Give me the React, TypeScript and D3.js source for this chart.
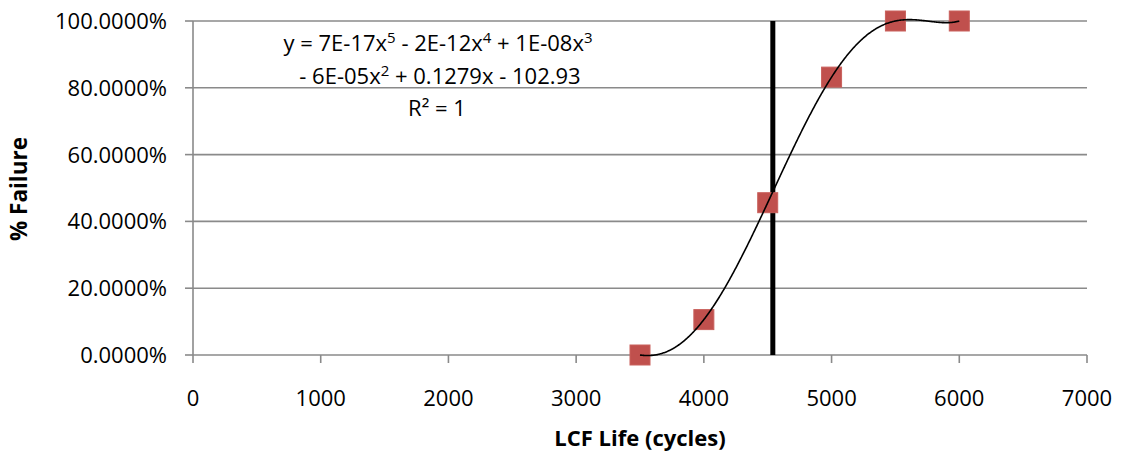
import React from "react";
import * as d3 from "d3";

const cycles = [3500, 4000, 4500, 5000, 5500, 6000];
const failurePct = [0, 10.6, 45.6, 83.2, 100, 100];
const xTicks = [0, 1000, 2000, 3000, 4000, 5000, 6000, 7000];
const yTicks = [0, 20, 40, 60, 80, 100];
const markerCycles = 4540;
const xTitle = "LCF Life (cycles)";
const yTitle = "% Failure";

const W = 1121;
const H = 451;
const left = 193;
const right = 1087;
const top = 21;
const bottom = 355;

// polynomial trendline of order 5 (exact through 6 points, R² = 1)
function trend(x: number): number {
  let s = 0;
  for (let i = 0; i < cycles.length; i++) {
    let t = failurePct[i];
    for (let j = 0; j < cycles.length; j++) {
      if (j !== i) t *= (x - cycles[j]) / (cycles[i] - cycles[j]);
    }
    s += t;
  }
  return s;
}

export default function App() {
  const x = d3.scaleLinear().domain([0, 7000]).range([left, right]);
  const y = d3.scaleLinear().domain([0, 100]).range([bottom, top]);
  const font = "'Open Sans', 'Liberation Sans', Arial, sans-serif";
  const grid = "#8a8a8a";
  const fs = 22;

  const samples = d3.range(cycles[0], cycles[cycles.length - 1] + 1, 5);
  const line = d3
    .line<number>()
    .x((d) => x(d))
    .y((d) => y(trend(d)))
    .curve(d3.curveLinear);

  const sup = { fontSize: 15 } as React.CSSProperties;

  return (
    <svg width={W} height={H} style={{ position: "absolute", left: 0, top: 0, background: "#fff" }}>
      {yTicks.map((t) => (
        <line key={"g" + t} x1={left} x2={right} y1={y(t)} y2={y(t)} stroke={grid} strokeWidth={1.6} />
      ))}
      <line x1={left} x2={left} y1={top} y2={bottom} stroke={grid} strokeWidth={1.6} />
      {yTicks.map((t) => (
        <g key={"yt" + t}>
          <line x1={left - 8} x2={left} y1={y(t)} y2={y(t)} stroke={grid} strokeWidth={1.6} />
          <text x={167} y={y(t)} dy="0.36em" textAnchor="end" fontFamily={font} fontSize={fs} fill="#000">
            {t.toFixed(4) + "%"}
          </text>
        </g>
      ))}
      {xTicks.map((t) => (
        <g key={"xt" + t}>
          <line x1={x(t)} x2={x(t)} y1={bottom} y2={bottom + 8} stroke={grid} strokeWidth={1.6} />
          <text x={x(t)} y={406} textAnchor="middle" fontFamily={font} fontSize={fs} fill="#000">
            {t}
          </text>
        </g>
      ))}
      <line x1={x(markerCycles)} x2={x(markerCycles)} y1={top} y2={bottom} stroke="#000" strokeWidth={5} />
      {cycles.map((c, i) => (
        <rect key={"m" + i} x={x(c) - 10} y={y(failurePct[i]) - 10} width={20} height={20} fill="#C0504D" stroke="#c9605c" strokeWidth={1} />
      ))}
      <path d={line(samples) || ""} fill="none" stroke="#000" strokeWidth={1.6} />
      <g fontFamily={font} fontSize={fs} fill="#000" textAnchor="middle">
        <text x={438} y={51}>
          y = 7E-17x<tspan style={sup} dy={-8}>5</tspan>
          <tspan dy={8}> - 2E-12x</tspan>
          <tspan style={sup} dy={-8}>4</tspan>
          <tspan dy={8}> + 1E-08x</tspan>
          <tspan style={sup} dy={-8}>3</tspan>
        </text>
        <text x={440} y={84}>
          - 6E-05x<tspan style={sup} dy={-8}>2</tspan>
          <tspan dy={8}> + 0.1279x - 102.93</tspan>
        </text>
        <text x={437} y={116}>R² = 1</text>
      </g>
      <text x={640} y={446} textAnchor="middle" fontFamily={font} fontWeight="bold" fontSize={22} fill="#000">
        {xTitle}
      </text>
      <text transform={`translate(27,${189}) rotate(-90)`} textAnchor="middle" fontFamily={font} fontWeight="bold" fontSize={22.5} fill="#000">
        {yTitle}
      </text>
    </svg>
  );
}
